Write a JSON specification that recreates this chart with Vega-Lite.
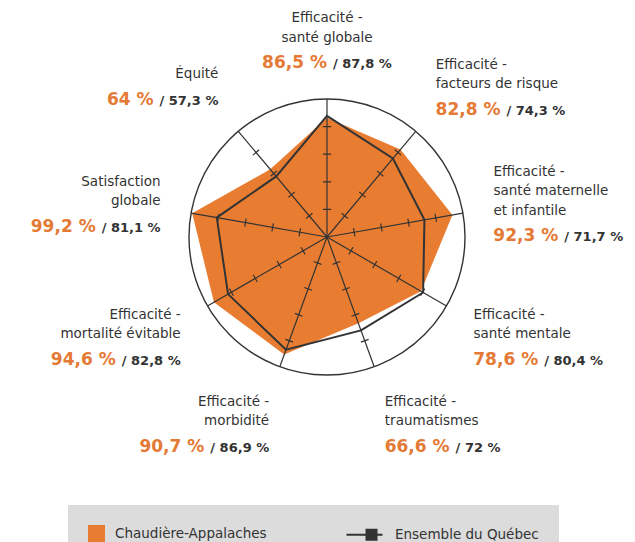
{
  "$schema": "https://vega.github.io/schema/vega-lite/v6.json",
  "width": 635,
  "height": 542,
  "padding": 0,
  "autosize": {"type": "none"},
  "background": "white",
  "config": {"view": {"stroke": null}},
  "datasets": {
    "axes": [
      {"i": 0, "axe": "Efficacité -\nsanté globale", "reg": 86.5, "qc": 87.8},
      {"i": 1, "axe": "Efficacité -\nfacteurs de risque", "reg": 82.8, "qc": 74.3},
      {"i": 2, "axe": "Efficacité -\nsanté maternelle\net infantile", "reg": 92.3, "qc": 71.7},
      {"i": 3, "axe": "Efficacité -\nsanté mentale", "reg": 78.6, "qc": 80.4},
      {"i": 4, "axe": "Efficacité -\ntraumatismes", "reg": 66.6, "qc": 72},
      {"i": 5, "axe": "Efficacité -\nmorbidité", "reg": 90.7, "qc": 86.9},
      {"i": 6, "axe": "Efficacité -\nmortalité évitable", "reg": 94.6, "qc": 82.8},
      {"i": 7, "axe": "Satisfaction\nglobale", "reg": 99.2, "qc": 81.1},
      {"i": 8, "axe": "Équité", "reg": 64, "qc": 57.3}
    ]
  },
  "data": {"name": "axes"},
  "transform": [
    {"calculate": "datum.i * 2 * PI / 9", "as": "theta"},
    {"calculate": "datum.i * 40", "as": "deg"},
    {"calculate": "0", "as": "cx"},
    {"calculate": "100 * sin(datum.theta)", "as": "ex"},
    {"calculate": "100 * cos(datum.theta)", "as": "ey"},
    {"calculate": "50 * sin(datum.theta)", "as": "mx"},
    {"calculate": "50 * cos(datum.theta)", "as": "my"},
    {"calculate": "122.5 * sin(datum.theta)", "as": "ax"},
    {"calculate": "143.2 * cos(datum.theta) - 2.5", "as": "ay"},
    {"calculate": "length(split(datum.axe, '\\n'))", "as": "n"},
    {"calculate": "datum.ay + (datum.n * 19.5 + 24) / 2 * 0.7246", "as": "ny"},
    {"calculate": "datum.ny - (datum.n * 19.5 + 18) * 0.7246", "as": "vy"},
    {"calculate": "replace(toString(datum.reg), '.', ',') + ' %'", "as": "ot"},
    {"calculate": "'/ ' + replace(toString(datum.qc), '.', ',') + ' %'", "as": "bt"},
    {"calculate": "11.8 * length(replace(toString(datum.reg), '.', '')) + (indexof(toString(datum.reg), '.') >= 0 ? 6.5 : 0) + 22.9", "as": "ow"},
    {"calculate": "9.25 + 9.05 * length(replace(toString(datum.qc), '.', '')) + (indexof(toString(datum.qc), '.') >= 0 ? 4.94 : 0) + 17.5", "as": "bw"},
    {"calculate": "datum.i == 0 ? datum.ax + ((datum.ow - datum.bw - 6) / 2) * 0.7246 : (datum.i < 5 ? datum.ax + datum.ow * 0.7246 : datum.ax - (datum.bw + 6) * 0.7246)", "as": "gx"},
    {"calculate": "datum.gx + 6 * 0.7246", "as": "bx"}
  ],
  "layer": [
    {
      "transform": [
        {"fold": ["reg", "qc"], "as": ["series", "value"]},
        {"filter": "datum.series == 'reg'"},
        {"calculate": "datum.value * sin(datum.theta)", "as": "px"},
        {"calculate": "datum.value * cos(datum.theta)", "as": "py"}
      ],
      "mark": {"type": "line", "filled": true, "interpolate": "linear-closed", "strokeWidth": 0, "opacity": 1},
      "encoding": {
        "x": {"field": "px", "type": "quantitative", "scale": {"domain": [-236.96, 223.19], "nice": false, "zero": false}, "axis": null},
        "y": {"field": "py", "type": "quantitative", "scale": {"domain": [-221.01, 171.74], "nice": false, "zero": false}, "axis": null},
        "order": {"field": "i", "type": "quantitative"},
        "color": {
          "field": "series",
          "type": "nominal",
          "scale": {"domain": ["reg", "qc"], "range": ["#e87d32", "#333333"]},
          "legend": {
            "title": null,
            "orient": "none",
            "direction": "horizontal",
            "legendX": 68,
            "legendY": 505,
            "padding": 20,
            "fillColor": "#dcdcdc",
            "symbolSize": 225,
            "symbolStrokeWidth": 2,
            "labelFont": "DejaVu Sans",
            "labelFontSize": 13.5,
            "labelColor": "#333333",
            "labelOffset": 10,
            "columnPadding": 75,
            "labelExpr": "datum.value == 'reg' ? 'Chaudière-Appalaches' : 'Ensemble du Québec'",
            "encoding": {
              "symbols": {
                "shape": {"condition": {"test": "datum.value == 'qc'", "value": "M-4,0H0.8M-1.33,-0.67H0V0.67H-1.33Z"}, "value": "square"},
                "fill": {"condition": {"test": "datum.value == 'qc'", "value": "#333333"}, "value": "#e87d32"},
                "stroke": {"condition": {"test": "datum.value == 'qc'", "value": "#333333"}, "value": "transparent"},
                "strokeWidth": {"value": 2},
                "opacity": {"value": 1}
              }
            }
          }
        }
      }
    },
    {
      "transform": [{"filter": "datum.i == 0"}],
      "mark": {"type": "point", "shape": "circle", "filled": false, "stroke": "#333333", "strokeWidth": 1.4, "size": 76176, "opacity": 1},
      "encoding": {
        "x": {"field": "cx", "type": "quantitative"},
        "y": {"field": "cx", "type": "quantitative"}
      }
    },
    {
      "mark": {"type": "rule", "color": "#333333", "strokeWidth": 1.2},
      "encoding": {
        "x": {"field": "cx", "type": "quantitative"},
        "y": {"field": "cx", "type": "quantitative"},
        "x2": {"field": "ex"},
        "y2": {"field": "ey"}
      }
    },
    {
      "mark": {"type": "point", "shape": "M-0.3,-3H0.3M-0.3,-1H0.3M-0.3,1H0.3M-0.3,3H0.3", "filled": false, "stroke": "#333333", "strokeWidth": 1.2, "size": 761.76, "opacity": 1},
      "encoding": {
        "x": {"field": "mx", "type": "quantitative"},
        "y": {"field": "my", "type": "quantitative"},
        "angle": {"field": "deg", "type": "quantitative", "scale": {"domain": [0, 360], "range": [0, 360]}}
      }
    },
    {
      "transform": [
        {"fold": ["reg", "qc"], "as": ["series", "value"]},
        {"filter": "datum.series == 'qc'"},
        {"calculate": "datum.value * sin(datum.theta)", "as": "px"},
        {"calculate": "datum.value * cos(datum.theta)", "as": "py"}
      ],
      "mark": {"type": "line", "interpolate": "linear-closed", "strokeWidth": 2},
      "encoding": {
        "x": {"field": "px", "type": "quantitative"},
        "y": {"field": "py", "type": "quantitative"},
        "order": {"field": "i", "type": "quantitative"},
        "color": {"field": "series", "type": "nominal"}
      }
    },
    {
      "transform": [{"filter": "datum.i == 0"}],
      "mark": {"type": "text", "align": "center", "baseline": "top", "font": "DejaVu Sans", "fontSize": 13.5, "lineHeight": 19.5, "lineBreak": "\n", "color": "#333333"},
      "encoding": {
        "x": {"field": "ax", "type": "quantitative"},
        "y": {"field": "ny", "type": "quantitative"},
        "text": {"field": "axe", "type": "nominal"}
      }
    },
    {
      "transform": [{"filter": "datum.i >= 1 && datum.i <= 4"}],
      "mark": {"type": "text", "align": "left", "baseline": "top", "font": "DejaVu Sans", "fontSize": 13.5, "lineHeight": 19.5, "lineBreak": "\n", "color": "#333333"},
      "encoding": {
        "x": {"field": "ax", "type": "quantitative"},
        "y": {"field": "ny", "type": "quantitative"},
        "text": {"field": "axe", "type": "nominal"}
      }
    },
    {
      "transform": [{"filter": "datum.i >= 5"}],
      "mark": {"type": "text", "align": "right", "baseline": "top", "font": "DejaVu Sans", "fontSize": 13.5, "lineHeight": 19.5, "lineBreak": "\n", "color": "#333333"},
      "encoding": {
        "x": {"field": "ax", "type": "quantitative"},
        "y": {"field": "ny", "type": "quantitative"},
        "text": {"field": "axe", "type": "nominal"}
      }
    },
    {
      "mark": {"type": "text", "align": "right", "baseline": "alphabetic", "font": "DejaVu Sans", "fontWeight": "bold", "fontSize": 17, "color": "#e47a35"},
      "encoding": {
        "x": {"field": "gx", "type": "quantitative"},
        "y": {"field": "vy", "type": "quantitative"},
        "text": {"field": "ot", "type": "nominal"}
      }
    },
    {
      "mark": {"type": "text", "align": "left", "baseline": "alphabetic", "font": "DejaVu Sans", "fontWeight": "bold", "fontSize": 13, "color": "#333333"},
      "encoding": {
        "x": {"field": "bx", "type": "quantitative"},
        "y": {"field": "vy", "type": "quantitative"},
        "text": {"field": "bt", "type": "nominal"}
      }
    }
  ]
}
